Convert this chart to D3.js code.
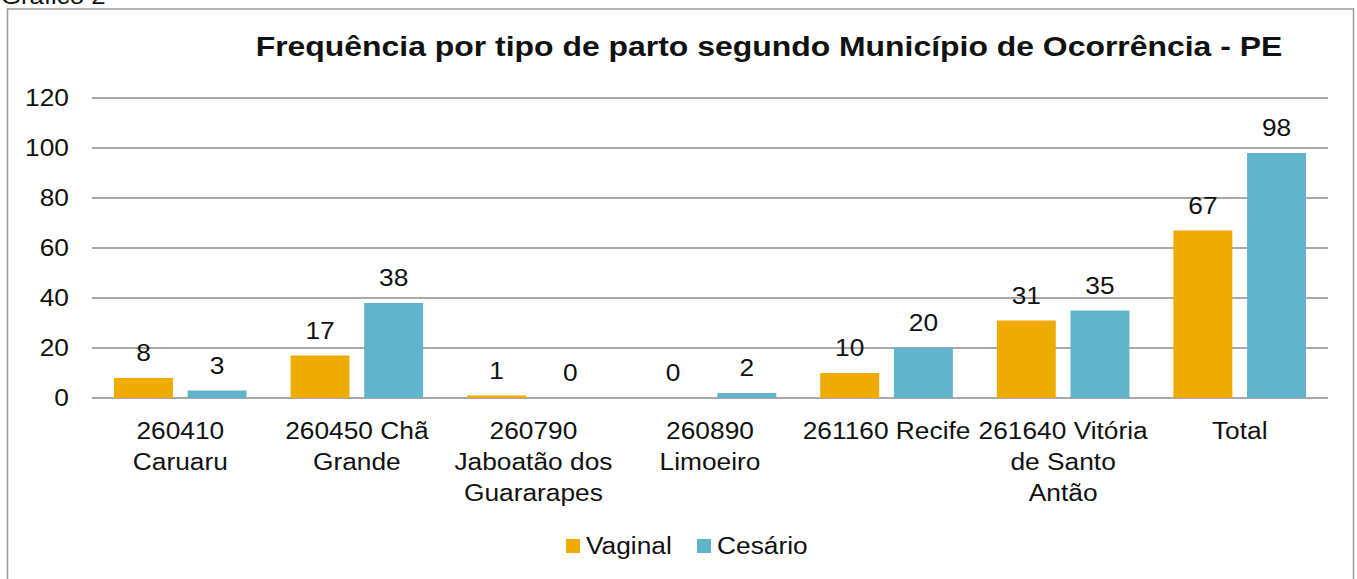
<!DOCTYPE html>
<html>
<head>
<meta charset="utf-8">
<script src="https://cdn.jsdelivr.net/npm/d3@7"></script>
<style>
  body { margin: 0; background: #fff; }
  svg text { font-family: "Liberation Sans", Arial, sans-serif; fill: #111; }
</style>
</head>
<body>
<svg id="chart" width="1357" height="579"></svg>
<script>
// chart data
var categories = [
    "260410\nCaruaru",
    "260450 Chã\nGrande",
    "260790\nJaboatão dos\nGuararapes",
    "260890\nLimoeiro",
    "261160 Recife",
    "261640 Vitória\nde Santo\nAntão",
    "Total"
];
var seriesNames = ["Vaginal", "Cesário"];
var vaginal = [8, 17, 1, 0, 10, 31, 67];
var cesario = [3, 38, 0, 2, 20, 35, 98];
var yTicks = [0, 20, 40, 60, 80, 100, 120];
var colors = ["#F0AB00", "#62B4CC"];

// the source picture is a bit wider than tall, so text gets stretched
var sx = 1.12;
function place(x, y) {
    return "translate(" + x + "," + y + ") scale(" + sx + ",1)";
}

var svg = d3.select("#chart");

// outer frame
svg.append("rect")
    .attr("x", 7.5).attr("y", 9)
    .attr("width", 1346).attr("height", 580)
    .attr("fill", "none")
    .attr("stroke", "#9a9a9a")
    .attr("stroke-width", 1.5);

svg.append("text")
    .attr("transform", place(1, 4))
    .attr("font-size", 23)
    .text("Gráfico 2");

svg.append("text")
    .attr("transform", place(769, 56))
    .attr("text-anchor", "middle")
    .attr("font-size", 28.5)
    .attr("font-weight", "bold")
    .text("Frequência por tipo de parto segundo Município de Ocorrência - PE");

var plotLeft = 92, plotRight = 1328, plotTop = 98, plotBottom = 398;

var x = d3.scaleBand().domain(d3.range(categories.length)).range([plotLeft, plotRight]);
var x1 = d3.scaleBand().domain([0, 1]).range([22, x.bandwidth() - 22]).paddingInner(0.2);
var y = d3.scaleLinear().domain([0, 120]).range([plotBottom, plotTop]);

// grid lines
svg.append("g").selectAll("line")
    .data(yTicks)
    .enter().append("line")
    .attr("x1", plotLeft).attr("x2", plotRight)
    .attr("y1", function(d) { return y(d); })
    .attr("y2", function(d) { return y(d); })
    .attr("stroke", "#8c8c8c")
    .attr("stroke-width", 1.5);

// y tick labels
svg.append("g").selectAll("text")
    .data(yTicks)
    .enter().append("text")
    .attr("transform", function(d) { return place(69, y(d) + 8); })
    .attr("text-anchor", "end")
    .attr("font-size", 23.5)
    .text(function(d) { return d; });

var series = [vaginal, cesario];

series.forEach(function(vals, s) {
    var g = svg.append("g");
    g.selectAll("rect")
        .data(vals)
        .enter().append("rect")
        .attr("x", function(d, i) { return x(i) + x1(s); })
        .attr("width", x1.bandwidth())
        .attr("y", function(d) { return y(d); })
        .attr("height", function(d) { return y(0) - y(d); })
        .attr("fill", colors[s]);

    g.selectAll("text")
        .data(vals)
        .enter().append("text")
        .attr("transform", function(d, i) {
            return place(x(i) + x1(s) + x1.bandwidth() / 2, y(d) - 17);
        })
        .attr("text-anchor", "middle")
        .attr("font-size", 23.5)
        .text(function(d) { return d; });
});

// category labels
var cat = svg.append("g").selectAll("text")
    .data(categories)
    .enter().append("text")
    .attr("text-anchor", "middle")
    .attr("font-size", 23.5)
    .attr("transform", function(d, i) { return place(x(i) + x.bandwidth() / 2, 439); });

cat.selectAll("tspan")
    .data(function(d) { return d.split("\n"); })
    .enter().append("tspan")
    .attr("x", 0)
    .attr("dy", function(d, i) { return i === 0 ? 0 : 31; })
    .text(function(d) { return d; });

// legend
var legend = svg.append("g");
var legendX = [566, 697];
seriesNames.forEach(function(name, i) {
    legend.append("rect")
        .attr("x", legendX[i]).attr("y", 539)
        .attr("width", 14).attr("height", 14)
        .attr("fill", colors[i]);
    legend.append("text")
        .attr("transform", place(legendX[i] + 20, 554))
        .attr("font-size", 23.5)
        .text(name);
});
</script>
</body>
</html>
